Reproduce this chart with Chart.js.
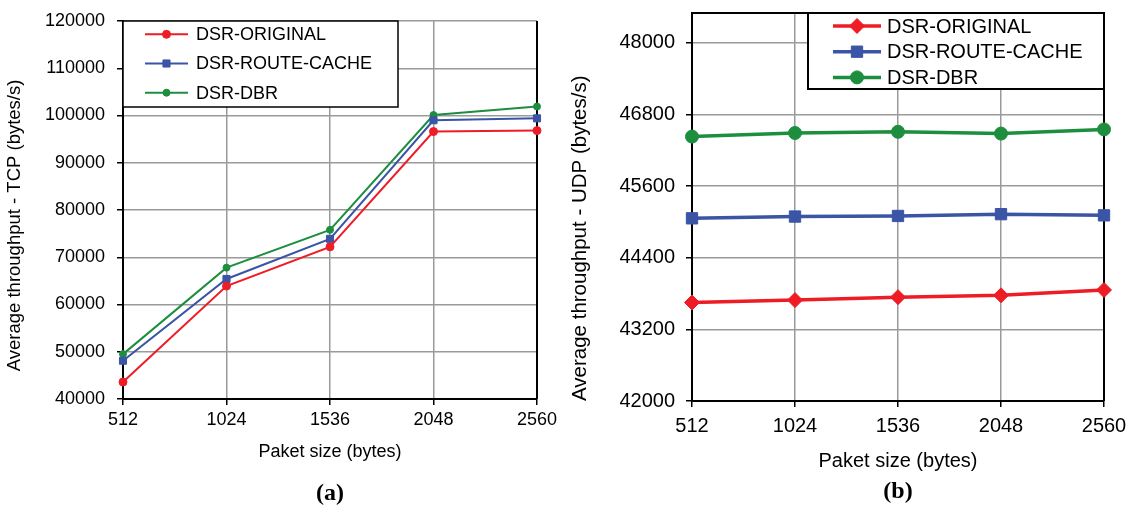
<!DOCTYPE html>
<html>
<head>
<meta charset="utf-8">
<script src="https://cdn.jsdelivr.net/npm/chart.js@4.4.0/dist/chart.umd.min.js"></script>
<style>
  body { margin: 0; background: #fff; }
  #wrap { position: relative; width: 1129px; height: 508px; }
  canvas { position: absolute; top: 0; }
</style>
</head>
<body>
<div id="wrap">
  <canvas id="tcpChart" width="565" height="508" style="left:0"></canvas>
  <canvas id="udpChart" width="564" height="508" style="left:565px"></canvas>
</div>
<script>
// data
const packetSizes = ['512', '1024', '1536', '2048', '2560'];
const seriesNames = ['DSR-ORIGINAL', 'DSR-ROUTE-CACHE', 'DSR-DBR'];

const tcpOriginal   = [43600, 63900, 72200, 96600, 96800];
const tcpRouteCache = [48100, 65400, 73900, 99000, 99400];
const tcpDbr        = [49500, 67800, 75800, 100100, 101900];

const udpOriginal   = [43650, 43690, 43740, 43770, 43860];
const udpRouteCache = [45060, 45090, 45100, 45130, 45110];
const udpDbr        = [46430, 46490, 46510, 46480, 46550];

const tcpTicks = [40000, 50000, 60000, 70000, 80000, 90000, 100000, 110000, 120000];
const udpTicks = [42000, 43200, 44400, 45600, 46800, 48000];

const colors = ['#ee1c25', '#3a54a6', '#1d8e3e'];
const gridGrey = '#9a9a9a';

// box legend drawn inside the plot, like the excel one
const boxLegend = {
  id: 'boxLegend',
  afterDraw(chart, args, o) {
    const {ctx, chartArea} = chart;
    const x = o.side === 'right' ? chartArea.right - o.width : chartArea.left;
    const y = chartArea.top;
    ctx.save();
    ctx.fillStyle = '#fff';
    ctx.fillRect(x, y, o.width, o.height);
    ctx.strokeStyle = '#000';
    ctx.lineWidth = o.borderWidth;
    ctx.strokeRect(x, y, o.width, o.height);
    chart.data.datasets.forEach((ds, i) => {
      const cy = y + o.firstRow + i * o.rowHeight;
      ctx.strokeStyle = ds.borderColor;
      ctx.lineWidth = ds.borderWidth;
      ctx.beginPath();
      ctx.moveTo(x + o.sampleStart, cy);
      ctx.lineTo(x + o.sampleStart + o.sampleLength, cy);
      ctx.stroke();
      ctx.fillStyle = ds.borderColor;
      ctx.lineWidth = 1;
      Chart.helpers.drawPoint(ctx, {pointStyle: ds.pointStyle, radius: ds.pointRadius, borderWidth: 1, rotation: 0},
        x + o.sampleStart + o.sampleLength / 2, cy);
      ctx.fillStyle = '#000';
      ctx.font = o.fontSize + 'px "Liberation Sans", Arial, sans-serif';
      ctx.textBaseline = 'middle';
      ctx.textAlign = 'left';
      ctx.fillText(ds.label, x + o.textStart, cy + 1);
    });
    ctx.restore();
  }
};

// dark frame edges of the plot area
const plotFrame = {
  id: 'plotFrame',
  beforeDatasetsDraw(chart, args, o) {
    const {ctx, chartArea} = chart;
    ctx.save();
    ctx.strokeStyle = '#000';
    ctx.lineWidth = 2;
    ctx.beginPath();
    if (o.top) {
      ctx.moveTo(chartArea.left, chartArea.top);
      ctx.lineTo(chartArea.right, chartArea.top);
    }
    ctx.moveTo(chartArea.right, chartArea.top);
    ctx.lineTo(chartArea.right, chartArea.bottom);
    ctx.stroke();
    ctx.restore();
  }
};

function makeDatasets(values, lineWidth, styles, radii) {
  return values.map((v, i) => ({
    label: seriesNames[i],
    data: v,
    borderColor: colors[i],
    backgroundColor: colors[i],
    pointBackgroundColor: colors[i],
    pointBorderColor: colors[i],
    borderWidth: lineWidth,
    pointStyle: styles[i],
    pointRadius: radii[i],
    pointBorderWidth: 1,
    tension: 0,
    clip: false
  }));
}

function sans(size) {
  return {family: '"Liberation Sans", Arial, sans-serif', size: size};
}

function makeOptions(c) {
  return {
    responsive: false,
    animation: false,
    layout: {padding: {left: 0, right: c.padRight, top: c.padTop, bottom: 0}},
    plugins: {
      legend: {display: false},
      tooltip: {enabled: false},
      title: {
        display: true,
        position: 'bottom',
        fullSize: false,
        text: c.caption,
        color: '#000',
        font: {family: '"Liberation Serif", "Times New Roman", serif', size: 24, weight: 'bold'},
        padding: {top: 0, bottom: c.captionPad}
      },
      boxLegend: c.legend,
      plotFrame: {top: c.frameTop}
    },
    scales: {
      x: {
        type: 'category',
        offset: false,
        afterFit: s => {
          s.height = c.xHeight;
          s.paddingLeft = 0;
          s.paddingRight = 0;
        },
        border: {color: '#000', width: 2},
        grid: {color: gridGrey, lineWidth: 1.5, tickLength: 6, tickColor: '#000', offset: false},
        ticks: {color: '#000', padding: c.xTickPad, maxRotation: 0, font: sans(c.font)},
        title: {display: true, text: 'Paket size (bytes)', color: '#000', font: sans(c.font),
                padding: {top: 0, bottom: c.xTitlePad}}
      },
      y: {
        min: c.yMin,
        max: c.yMax,
        afterBuildTicks: s => { s.ticks = c.yTicks.map(v => ({value: v})); },
        afterFit: s => {
          s.width = c.yWidth;
          s.paddingTop = 0;
          s.paddingBottom = 0;
        },
        border: {color: '#000', width: 2},
        grid: {color: gridGrey, lineWidth: 1.5, tickLength: 6, tickColor: '#000'},
        ticks: {color: '#000', padding: c.yTickPad, font: sans(c.font), callback: v => String(v)},
        title: {display: true, text: c.yTitle, color: '#000', font: sans(c.yTitleFont), align: c.yTitleAlign,
                padding: {top: c.yTitlePad, bottom: 0}}
      }
    }
  };
}

new Chart(document.getElementById('tcpChart'), {
  type: 'line',
  data: {
    labels: packetSizes,
    datasets: makeDatasets([tcpOriginal, tcpRouteCache, tcpDbr], 2, ['circle', 'rect', 'circle'], [4, 5, 3.5])
  },
  options: makeOptions({
    caption: '(a)', captionPad: 0,
    padRight: 28, padTop: 21,
    font: 18,
    xHeight: 80.2, xTickPad: 4, xTitlePad: 16,
    yMin: 40000, yMax: 120000, yTicks: tcpTicks,
    yWidth: 123, yTickPad: 12, yTitlePad: 4, yTitleAlign: 'center', yTitleFont: 18.5,
    // trailing spaces push the rotated title down a little, as in the figure
    yTitle: 'Average throughput - TCP (bytes/s)\u00a0\u00a0\u00a0\u00a0\u00a0\u00a0',
    frameTop: false,
    legend: {side: 'left', width: 275, height: 86, borderWidth: 1.5, firstRow: 13.3, rowHeight: 29.2,
             sampleStart: 22, sampleLength: 43, textStart: 73, fontSize: 18}
  }),
  plugins: [boxLegend, plotFrame]
});

new Chart(document.getElementById('udpChart'), {
  type: 'line',
  data: {
    labels: packetSizes,
    datasets: makeDatasets([udpOriginal, udpRouteCache, udpDbr], 3.5, ['rectRot', 'rect', 'circle'], [7.5, 8, 6.5])
  },
  options: makeOptions({
    caption: '(b)', captionPad: 1.6,
    padRight: 25, padTop: 13,
    font: 20,
    xHeight: 76.6, xTickPad: 7, xTitlePad: 4.6,
    yMin: 42000, yMax: 48500, yTicks: udpTicks,
    yWidth: 127, yTickPad: 11, yTitlePad: 3, yTitleAlign: 'start', yTitleFont: 20.5,
    yTitle: 'Average throughput - UDP (bytes/s)',
    frameTop: true,
    legend: {side: 'right', width: 296, height: 76, borderWidth: 2, firstRow: 13, rowHeight: 25.7,
             sampleStart: 25, sampleLength: 48, textStart: 79, fontSize: 20}
  }),
  plugins: [boxLegend, plotFrame]
});
</script>
</body>
</html>
